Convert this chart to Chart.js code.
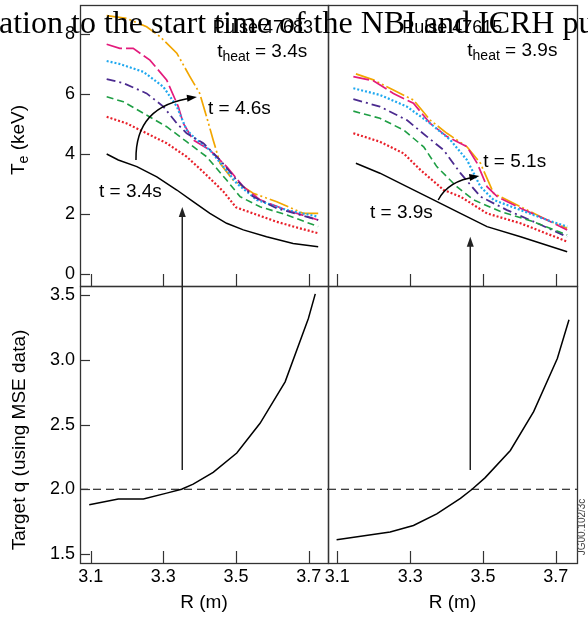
<!DOCTYPE html>
<html><head><meta charset="utf-8">
<script src="https://cdn.jsdelivr.net/npm/chart.js@4/dist/chart.umd.min.js"></script>
<style>
html,body{margin:0;padding:0;background:#fff;}
#wrap{position:relative;width:588px;height:617px;overflow:hidden;background:#fff;}
#wrap canvas{position:absolute;left:0;top:0;}
#title{position:absolute;left:-1px;top:6px;font-family:'Liberation Serif','Times New Roman',serif;font-size:32px;line-height:32px;white-space:nowrap;color:#000;z-index:10;}
</style></head>
<body><div id="wrap">
<canvas id="cTL" width="588" height="617"></canvas>
<canvas id="cTR" width="588" height="617"></canvas>
<canvas id="cBL" width="588" height="617"></canvas>
<canvas id="cBR" width="588" height="617"></canvas>
<div id="title">ation to the start time of the NBI and ICRH pu</div>
</div>
<script>
// ---------------- data ----------------
const tickR  = [3.1, 3.3, 3.5, 3.7];
const tickTe = [0, 2, 4, 6, 8];
const tickQ  = [1.5, 2.0, 2.5, 3.0, 3.5];
const qRef = 2.0;

// Pulse A (t_heat = 3.4s), Te profiles, t = 3.4s ... 4.6s
const A_t1_R  = [3.144,3.176,3.227,3.282,3.337,3.382,3.428,3.474,3.52,3.584,3.657,3.726];
const A_t1_Te = [4.0,3.8,3.58,3.24,2.8,2.41,2.02,1.69,1.47,1.24,1.02,0.91];
const A_t2_R  = [3.144,3.199,3.254,3.309,3.364,3.41,3.465,3.5,3.547,3.612,3.676,3.726];
const A_t2_Te = [5.24,5.02,4.69,4.36,3.91,3.4,2.75,2.22,2.02,1.74,1.52,1.36];
const A_t3_R  = [3.144,3.19,3.245,3.309,3.364,3.419,3.474,3.511,3.566,3.639,3.726];
const A_t3_Te = [5.91,5.74,5.36,4.91,4.41,3.91,3.13,2.58,2.24,1.97,1.58];
const A_t4_R  = [3.144,3.19,3.254,3.3,3.337,3.364,3.41,3.456,3.502,3.547,3.612,3.726];
const A_t4_Te = [6.5,6.36,6.02,5.58,5.02,4.69,4.36,3.8,3.13,2.58,2.19,1.8];
const A_t5_R  = [3.144,3.18,3.245,3.3,3.337,3.364,3.392,3.428,3.465,3.502,3.557,3.639,3.726];
const A_t5_Te = [7.1,7.0,6.74,6.24,5.58,4.8,4.47,4.13,3.58,3.02,2.47,2.13,1.91];
const A_t6_R  = [3.144,3.18,3.217,3.263,3.309,3.341,3.355,3.382,3.428,3.474,3.52,3.566,3.639,3.726];
const A_t6_Te = [7.66,7.52,7.52,7.13,6.47,5.58,5.02,4.47,4.13,3.58,2.91,2.47,2.13,1.8];
const A_t7_R  = [3.144,3.199,3.254,3.291,3.337,3.373,3.4,3.419,3.437,3.456,3.492,3.547,3.612,3.685,3.726];
const A_t7_Te = [8.61,8.52,8.24,7.91,7.36,6.58,6.02,5.24,4.47,3.69,3.13,2.69,2.41,2.02,2.02];

// Pulse B (t_heat = 3.9s), Te profiles, t = 3.9s ... 5.1s
const B_t1_R  = [3.151,3.217,3.291,3.364,3.438,3.511,3.603,3.731];
const B_t1_Te = [3.69,3.36,2.91,2.47,2.02,1.58,1.24,0.74];
const B_t2_R  = [3.144,3.217,3.282,3.328,3.392,3.438,3.511,3.603,3.731];
const B_t2_Te = [4.69,4.41,4.02,3.47,2.8,2.58,2.02,1.69,1.08];
const B_t3_R  = [3.144,3.217,3.282,3.337,3.373,3.428,3.474,3.548,3.639,3.731];
const B_t3_Te = [5.43,5.19,4.8,4.24,3.58,2.91,2.47,2.08,1.74,1.3];
const B_t4_R  = [3.144,3.217,3.291,3.346,3.392,3.438,3.493,3.566,3.649,3.731];
const B_t4_Te = [5.83,5.58,5.13,4.58,4.13,3.36,2.58,2.13,1.69,1.24];
const B_t5_R  = [3.144,3.217,3.291,3.355,3.41,3.456,3.493,3.529,3.603,3.676,3.731];
const B_t5_Te = [6.19,5.97,5.58,5.02,4.47,3.8,2.91,2.47,2.13,1.8,1.58];
const B_t6_R  = [3.144,3.199,3.254,3.309,3.355,3.401,3.456,3.484,3.511,3.539,3.603,3.676,3.731];
const B_t6_Te = [6.58,6.44,6.02,5.69,5.02,4.58,4.24,3.69,2.91,2.58,2.19,1.8,1.47];
const B_t7_R  = [3.151,3.199,3.254,3.309,3.355,3.401,3.456,3.493,3.529,3.603,3.676,3.731];
const B_t7_Te = [6.67,6.47,6.13,5.8,5.13,4.69,4.24,3.69,2.69,2.24,1.8,1.52];

// Target q profiles (MSE)
const A_q_R = [3.096,3.176,3.245,3.309,3.35,3.382,3.437,3.502,3.566,3.635,3.699,3.718];
const A_q   = [1.88,1.925,1.925,1.97,2.0,2.04,2.13,2.28,2.51,2.83,3.32,3.51];
const B_q_R = [3.098,3.245,3.309,3.373,3.438,3.47,3.506,3.575,3.639,3.704,3.736];
const B_q   = [1.61,1.67,1.72,1.81,1.93,2.0,2.09,2.30,2.6,3.01,3.31];

// q = 2 crossing radii (where arrows are drawn)
const A_cross = 3.352;
const B_cross = 3.465;

// ---------------- styles / layout ----------------
const SANS = "'Liberation Sans', Arial, Helvetica, sans-serif";
const lineStyles = [
  {c:'#000000', d:[],            w:1.5},
  {c:'#e8202a', d:[2,2],         w:2.2},
  {c:'#1e9e44', d:[7,4],         w:1.6},
  {c:'#4b2a8f', d:[9,4,2,4],     w:1.8},
  {c:'#1fa8ef', d:[2,2],         w:2.2},
  {c:'#e31b7c', d:[16,4],        w:1.7},
  {c:'#f2a600', d:[20,3,2,3,2,3],w:1.7}
];
const W = 588, H = 617;
const PANEL = {L:80, M:328, R:577, T:5, D:286, B:563};

function pts(R, V){ return R.map((r,i)=>({x:r, y:V[i]})); }
function teSets(list){
  return list.map((p,i)=>({
    data: pts(p[0], p[1]),
    borderColor: lineStyles[i].c, borderDash: lineStyles[i].d, borderWidth: lineStyles[i].w,
    pointRadius:0, fill:false, tension:0
  }));
}

function xScale(range, labels, title){
  return {
    type:'linear', min:range[0], max:range[1], position:'bottom',
    afterBuildTicks: s => { s.ticks = tickR.map(v=>({value:v})); },
    afterFit: s => { s.height = labels ? (H - PANEL.B) : 0; s.paddingLeft = 0; s.paddingRight = 0; },
    grid:{display:false, drawTicks:false}, border:{display:false},
    ticks:{display:labels, color:'#000', font:{family:SANS,size:18}, padding:3, maxRotation:0, autoSkip:false,
           callback: v => v.toFixed(1)},
    title: title ? {display:true, text:title, color:'#000', font:{family:SANS,size:19}, padding:{top:0,bottom:3}} : {display:false}
  };
}
function yScale(range, ticks, show, dec){
  return {
    type:'linear', min:range[0], max:range[1], display:show, position:'left',
    afterBuildTicks: s => { s.ticks = ticks.map(v=>({value:v})); },
    afterFit: s => { s.width = show ? PANEL.L : 0; s.paddingTop = 0; s.paddingBottom = 0; },
    grid:{display:false, drawTicks:false}, border:{display:false},
    ticks:{display:show, color:'#000', font:{family:SANS,size:18}, padding:5, autoSkip:false,
           callback: v => v.toFixed(dec)}
  };
}

function head(ctx, x, y, ang, L, Wd){
  ctx.beginPath();
  ctx.moveTo(x, y);
  ctx.lineTo(x - L*Math.cos(ang) + Wd*Math.sin(ang), y - L*Math.sin(ang) - Wd*Math.cos(ang));
  ctx.lineTo(x - L*Math.cos(ang) - Wd*Math.sin(ang), y - L*Math.sin(ang) + Wd*Math.cos(ang));
  ctx.closePath(); ctx.fill();
}
function rich(ctx, x, y, parts, align){
  let total = 0;
  parts.forEach(p=>{ ctx.font = p.s + 'px ' + SANS; p.w = ctx.measureText(p.t).width; total += p.w; });
  let cx = align === 'right' ? x - total : x;
  ctx.textAlign = 'left'; ctx.textBaseline = 'alphabetic';
  parts.forEach(p=>{ ctx.font = p.s + 'px ' + SANS; ctx.fillText(p.t, cx, y + (p.dy||0)); cx += p.w; });
}
function vtext(ctx, cx, cy, parts){
  ctx.save();
  ctx.translate(cx, cy); ctx.rotate(-Math.PI/2);
  let total = 0;
  parts.forEach(p=>{ ctx.font = p.s + 'px ' + SANS; p.w = ctx.measureText(p.t).width; total += p.w; });
  let x = -total/2;
  ctx.textBaseline = 'middle'; ctx.textAlign = 'left';
  parts.forEach(p=>{ ctx.font = p.s + 'px ' + SANS; ctx.fillText(p.t, x, (p.dy||0)); x += p.w; });
  ctx.restore();
}

function deco(cfg){
  return {
    id:'deco',
    afterDatasetsDraw(chart){
      const {ctx, chartArea:a} = chart;
      const xs = chart.scales.x, ys = chart.scales.y;
      const P = (x,y)=>[xs.getPixelForValue(x), ys.getPixelForValue(y)];
      ctx.save();
      ctx.fillStyle = '#000'; ctx.strokeStyle = '#000';
      if (cfg.ref != null){
        const y = ys.getPixelForValue(cfg.ref);
        ctx.setLineDash([8,5]); ctx.lineWidth = 1;
        ctx.beginPath(); ctx.moveTo(a.left, y); ctx.lineTo(a.right, y); ctx.stroke();
        ctx.setLineDash([]);
      }
      ctx.strokeStyle = '#333'; ctx.lineWidth = 1.2;
      xs.ticks.forEach(t=>{
        const x = Math.round(xs.getPixelForValue(t.value)) + 0.5;
        ctx.beginPath(); ctx.moveTo(x, a.bottom); ctx.lineTo(x, a.bottom - 12); ctx.stroke();
      });
      if (cfg.yTicks){
        ys.ticks.forEach(t=>{
          const y = Math.round(ys.getPixelForValue(t.value)) + 0.5;
          ctx.beginPath(); ctx.moveTo(a.left, y); ctx.lineTo(a.left + 10, y); ctx.stroke();
        });
      }
      ctx.lineWidth = 1.3; ctx.strokeStyle = '#333';
      ctx.strokeRect(a.left + 0.5, a.top + 0.5, a.right - a.left, a.bottom - a.top);
      ctx.fillStyle = '#000'; ctx.strokeStyle = '#000';
      if (cfg.extra) cfg.extra(ctx, P, a);
      ctx.restore();
    }
  };
}

function makeChart(id, datasets, xs, ys, pad, decoCfg){
  return new Chart(document.getElementById(id), {
    type:'line',
    data:{datasets},
    options:{
      responsive:false, animation:false, events:[],
      layout:{padding:pad},
      plugins:{legend:{display:false}, tooltip:{enabled:false}},
      scales:{x:xs, y:ys}
    },
    plugins:[deco(decoCfg)]
  });
}

const xRangeL = [3.0706, 3.753];
const xRangeR = [3.0744, 3.758];
const teRange = [-0.4, 8.967];
const qRange  = [1.43, 3.571];

// Top-left: pulse A Te
makeChart('cTL',
  teSets([[A_t1_R,A_t1_Te],[A_t2_R,A_t2_Te],[A_t3_R,A_t3_Te],[A_t4_R,A_t4_Te],[A_t5_R,A_t5_Te],[A_t6_R,A_t6_Te],[A_t7_R,A_t7_Te]]),
  xScale(xRangeL, false, null), yScale(teRange, tickTe, true, 0),
  {left:0, top:PANEL.T, right:W-PANEL.M, bottom:H-PANEL.D},
  {yTicks:true, extra:(ctx,P,a)=>{
    // vertical arrow from q = 2 crossing
    const [vx, vy] = P(A_cross, 2.233);
    ctx.strokeStyle = '#222'; ctx.lineWidth = 1.5;
    ctx.beginPath(); ctx.moveTo(vx, a.bottom); ctx.lineTo(vx, vy + 9); ctx.stroke();
    ctx.fillStyle = '#222'; head(ctx, vx, vy, -Math.PI/2, 10, 3.5);
    // curved arrow
    const s = P(3.2246, 3.8), c = P(3.2219, 5.63), e = P(3.3924, 5.9);
    ctx.strokeStyle = '#000'; ctx.fillStyle = '#000'; ctx.lineWidth = 1.5;
    ctx.beginPath(); ctx.moveTo(s[0], s[1]); ctx.quadraticCurveTo(c[0], c[1], e[0]-4, e[1]+1); ctx.stroke();
    head(ctx, e[0], e[1], Math.atan2(e[1]-c[1], e[0]-c[0]), 10, 3.5);
    // labels
    const t1 = P(3.4227, 5.33); rich(ctx, t1[0], t1[1], [{t:'t = 4.6s', s:19}]);
    const t2 = P(3.1228, 2.567); rich(ctx, t2[0], t2[1], [{t:'t = 3.4s', s:19}]);
    const th = P(3.448, 7.243); rich(ctx, th[0], th[1], [{t:'t',s:19},{t:'heat',s:14,dy:4},{t:' = 3.4s',s:19}]);
    const pl = P(3.7116, 8.03); rich(ctx, pl[0], pl[1], [{t:'Pulse 47683', s:18}], 'right');
    // axis title with subscript
    vtext(ctx, 19, 140, [{t:'T',s:19},{t:'e',s:14,dy:5},{t:' (keV)',s:19}]);
  }});

// Top-right: pulse B Te
makeChart('cTR',
  teSets([[B_t1_R,B_t1_Te],[B_t2_R,B_t2_Te],[B_t3_R,B_t3_Te],[B_t4_R,B_t4_Te],[B_t5_R,B_t5_Te],[B_t6_R,B_t6_Te],[B_t7_R,B_t7_Te]]),
  xScale(xRangeR, false, null), yScale(teRange, tickTe, false, 0),
  {left:PANEL.M, top:PANEL.T, right:W-PANEL.R, bottom:H-PANEL.D},
  {yTicks:false, extra:(ctx,P,a)=>{
    const [vx, vy] = P(B_cross, 1.24);
    ctx.strokeStyle = '#222'; ctx.lineWidth = 1.5;
    ctx.beginPath(); ctx.moveTo(vx, a.bottom); ctx.lineTo(vx, vy + 9); ctx.stroke();
    ctx.fillStyle = '#222'; head(ctx, vx, vy, -Math.PI/2, 10, 3.5);
    const s = P(3.377, 2.467), c = P(3.4045, 3.11), e = P(3.49, 3.267);
    ctx.strokeStyle = '#000'; ctx.fillStyle = '#000'; ctx.lineWidth = 1.5;
    ctx.beginPath(); ctx.moveTo(s[0], s[1]); ctx.quadraticCurveTo(c[0], c[1], e[0]-4, e[1]+1); ctx.stroke();
    head(ctx, e[0], e[1], Math.atan2(e[1]-c[1], e[0]-c[0]), 10, 3.5);
    const t1 = P(3.5008, 3.567); rich(ctx, t1[0], t1[1], [{t:'t = 5.1s', s:19}]);
    const t2 = P(3.1897, 1.867); rich(ctx, t2[0], t2[1], [{t:'t = 3.9s', s:19}]);
    const th = P(3.4568, 7.26); rich(ctx, th[0], th[1], [{t:'t',s:19},{t:'heat',s:14,dy:4},{t:' = 3.9s',s:19}]);
    const pl = P(3.553, 8.03); rich(ctx, pl[0], pl[1], [{t:'Pulse 47615', s:18}], 'right');
  }});

// Bottom-left: q profile pulse A
makeChart('cBL',
  [{data:pts(A_q_R, A_q), borderColor:'#000', borderWidth:1.5, pointRadius:0, tension:0, fill:false}],
  xScale(xRangeL, true, 'R (m)'), yScale(qRange, tickQ, true, 1),
  {left:0, top:PANEL.D, right:W-PANEL.M, bottom:0},
  {yTicks:true, ref:qRef, extra:(ctx,P,a)=>{
    const [vx, vy] = P(A_cross, 2.149);
    ctx.strokeStyle = '#222'; ctx.lineWidth = 1.5;
    ctx.beginPath(); ctx.moveTo(vx, vy); ctx.lineTo(vx, a.top); ctx.stroke();
    ctx.fillStyle = '#000';
    vtext(ctx, 20, 440, [{t:'Target q (using MSE data)', s:19}]);
  }});

// Bottom-right: q profile pulse B
makeChart('cBR',
  [{data:pts(B_q_R, B_q), borderColor:'#000', borderWidth:1.5, pointRadius:0, tension:0, fill:false}],
  xScale(xRangeR, true, 'R (m)'), yScale(qRange, tickQ, false, 1),
  {left:PANEL.M, top:PANEL.D, right:W-PANEL.R, bottom:0},
  {yTicks:false, ref:qRef, extra:(ctx,P,a)=>{
    const [vx, vy] = P(B_cross, 2.149);
    ctx.strokeStyle = '#222'; ctx.lineWidth = 1.5;
    ctx.beginPath(); ctx.moveTo(vx, vy); ctx.lineTo(vx, a.top); ctx.stroke();
    ctx.save();
    ctx.translate(582, 527); ctx.rotate(-Math.PI/2);
    ctx.fillStyle = '#444'; ctx.font = '10px ' + SANS; ctx.textAlign = 'center'; ctx.textBaseline = 'middle';
    ctx.fillText('JG00.102/3c', 0, 0);
    ctx.restore();
  }});
</script>
</body></html>
